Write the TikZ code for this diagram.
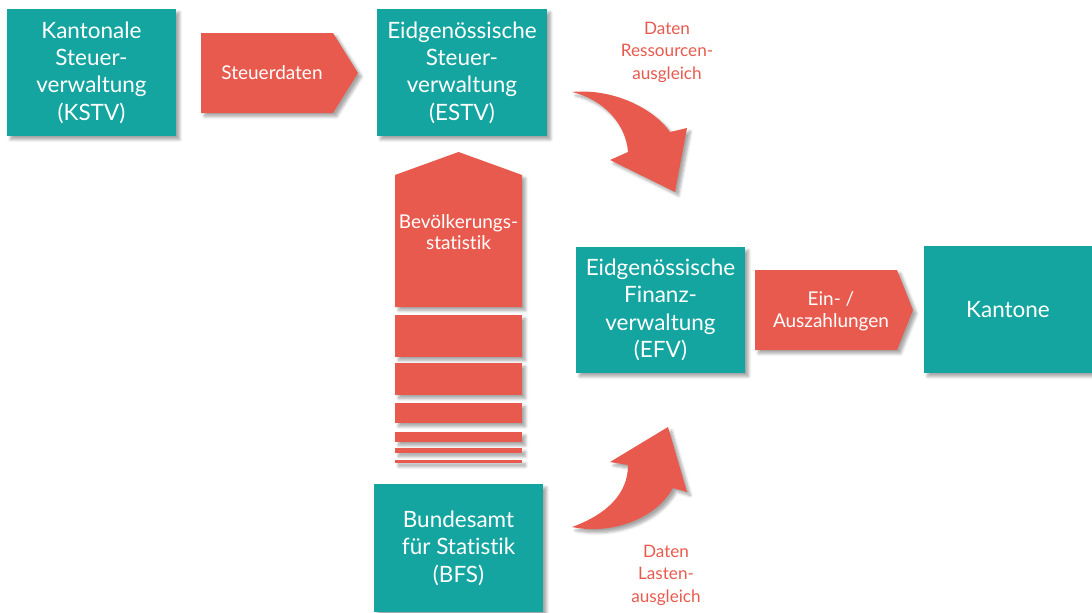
\documentclass[tikz,border=0pt]{standalone}
\usepackage{fontspec}
\setmainfont{Lato}[Ligatures = NoCommon]
\usetikzlibrary{positioning, shadows.blur}
\definecolor{fateal}{RGB}{20,165,160}
\definecolor{facoral}{RGB}{232,90,78}
\tikzset{%
	shd/.style = {blur shadow = {shadow xshift = 2.5pt, shadow yshift = -2.5pt, shadow opacity = 35, shadow blur steps = 6}},
	box/.style = {name = #1, rectangle, fill = fateal, text = white, align = center, shd,
		inner sep = 0pt, font = \fontsize{16}{19.5}\selectfont},
	flow/.style = {fill = facoral, shd},
	intxt/.style = {text = white, align = center, font = \fontsize{13.5}{15.5}\selectfont},
	lbl/.style = {text = facoral, align = center, font = \fontsize{12.2}{16}\selectfont}
}

\begin{document}
\begin{tikzpicture}[x = 0.025cm, y = -0.025cm]
	\useasboundingbox (0,0) rectangle (1092,612);
	% boxes
	\node [box = {kstv}, minimum width = 4.23cm, minimum height = 3.18cm] at (91.5,72.5) {Kantonale\\Steuer-\\verwaltung\\(KSTV)};
	\node [box = {estv}, minimum width = 4.25cm, minimum height = 3.18cm] at (462,72.5) {Eidgenössische\\Steuer-\\verwaltung\\(ESTV)};
	\node [box = {efv}, minimum width = 4.23cm, minimum height = 3.15cm] at (660.5,310) {Eidgenössische\\Finanz-\\verwaltung\\(EFV)};
	\node [box = {kantone}, minimum width = 4.2cm, minimum height = 3.18cm] at (1008,309.5) {Kantone};
	\node [box = {bfs}, minimum width = 4.23cm, minimum height = 3.2cm] at (458.5,548) {Bundesamt\\für Statistik\\(BFS)};
	% straight arrows
	\fill [flow] (201,33) -- (333,33) -- (358,73) -- (333,113) -- (201,113) -- cycle;
	\node [intxt] (steuerdaten) at (272,73) {Steuerdaten};
	\fill [flow] (395,307) -- (395,175) -- (458.5,152) -- (522,175) -- (522,307) -- cycle;
	\node [intxt] (bevstat) at (458.5,232) {Bevölkerungs-\\statistik};
	\foreach \a/\b in {315/357, 363/395, 403/423, 432/442, 448/453, 460/463}
		\fill [flow] (395,\a) rectangle (522,\b);
	\fill [flow] (755,270) -- (897,270) -- (913,310) -- (897,350) -- (755,350) -- cycle;
	\node [intxt] (zahlungen) at (831,311) {Ein- /\\Auszahlungen};
	% curved arrows
	\fill [flow] (572,92) .. controls (615,88) and (655,110) .. (670,132) -- (687,128) -- (675,192)
		-- (610,160) -- (628,152) .. controls (626,125) and (605,100) .. (572,92) -- cycle;
	\fill [flow] (572,527) .. controls (605,515) and (628,495) .. (628,465) -- (610,462) -- (668,427)
		-- (687,492) -- (673,488) .. controls (655,520) and (610,535) .. (572,527) -- cycle;
	\node [lbl] (ressourcen) at (667,52) {Daten\\Ressourcen-\\ausgleich};
	\node [lbl] (lasten) at (666,575) {Daten\\Lasten-\\ausgleich};
\end{tikzpicture}
\end{document}
